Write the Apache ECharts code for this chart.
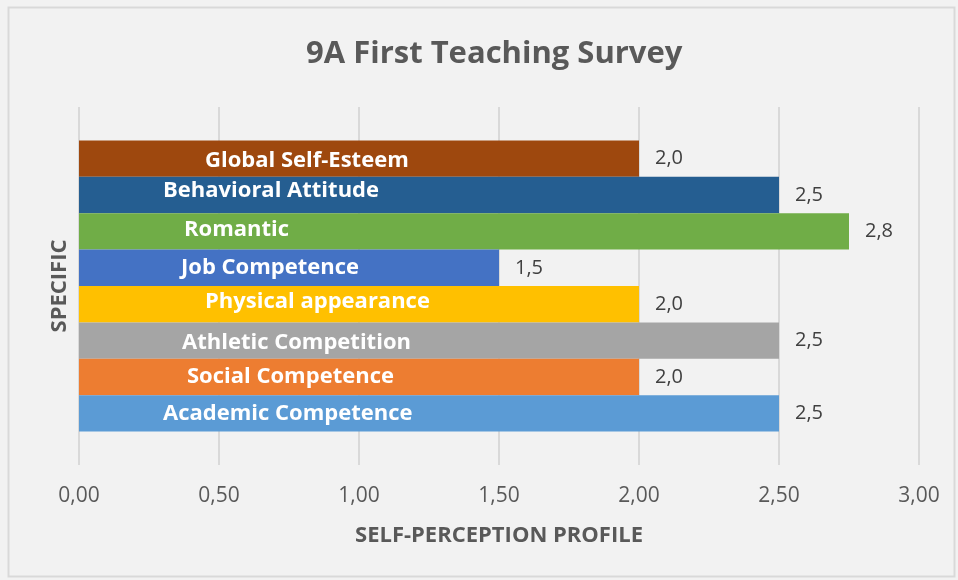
<!DOCTYPE html>
<html lang="en" style="width: 100%;height:100%">
    <head>
        <meta charset="UTF-8">
        <title>9A First Teaching Survey</title>
        <script src="https://cdn.jsdelivr.net/npm/echarts@6.0.0/dist/echarts.min.js"></script>
    </head>
    <body style="width: 100%;height:100%;margin:0;background:#fff">
        <div id="bar" style="width: 958px;height:580px"></div>
        <script>
            // top to bottom, like the picture
            const names = ['Global Self-Esteem', 'Behavioral Attitude', 'Romantic', 'Job Competence',
                'Physical appearance', 'Athletic Competition', 'Social Competence', 'Academic Competence'];
            const scores = [2.0, 2.5, 2.75, 1.5, 2.0, 2.5, 2.0, 2.5];
            const xTicks = [0, 0.5, 1, 1.5, 2, 2.5, 3];

            const colors = ['#9E480E', '#255E91', '#70AD47', '#4472C4', '#FFC000', '#A5A5A5', '#ED7D31', '#5B9BD5'];
            // hand-placed name labels, distance from the bar start
            const nameOffset = [126, 84, 105, 102, 126, 103, 108, 84];
            const nameShiftY = [2, -4, -2, 0, -2, 2, 0, 0];

            const font = '"Open Sans", sans-serif';
            const series = [];
            for (let i = 0; i < names.length; i++) {
                series.push({
                    name: names[i],
                    type: 'bar',
                    yAxisIndex: 0,
                    barGap: 0,
                    barCategoryGap: '18.7%',
                    itemStyle: {color: colors[i]},
                    label: {
                        show: true,
                        position: 'right',
                        distance: 16,
                        color: '#404040',
                        fontSize: 20,
                        fontFamily: font,
                        formatter: p => p.value.toFixed(1).replace('.', ',')
                    },
                    data: [scores[i]]
                });
            }
            // transparent copies on a hidden axis, only to carry the name labels
            for (let i = 0; i < names.length; i++) {
                series.push({
                    name: names[i] + ' label',
                    type: 'bar',
                    yAxisIndex: 1,
                    silent: true,
                    barGap: 0,
                    barCategoryGap: '18.7%',
                    itemStyle: {color: 'rgba(0,0,0,0)'},
                    label: {
                        show: true,
                        position: 'insideLeft',
                        distance: nameOffset[i],
                        offset: [0, nameShiftY[i]],
                        color: '#ffffff',
                        fontWeight: 'bold',
                        fontSize: 22,
                        fontFamily: font,
                        formatter: names[i]
                    },
                    data: [scores[i]]
                });
            }

            const myChart = echarts.init(document.getElementById('bar'));

            const option = {
                backgroundColor: '#F2F2F2',
                animation: false,
                title: {
                    text: '9A First Teaching Survey',
                    left: 301,
                    top: 34,
                    textStyle: {
                        color: '#595959',
                        fontSize: 31,
                        fontWeight: 'bold',
                        fontFamily: font
                    }
                },
                graphic: [{
                    type: 'rect',
                    shape: {x: 8.5, y: 7.5, width: 946, height: 569},
                    style: {fill: 'none', stroke: '#D9D9D9', lineWidth: 2},
                    silent: true
                }],
                grid: {
                    left: 79,
                    right: 39,
                    top: 107,
                    bottom: 115
                },
                xAxis: {
                    type: 'value',
                    min: xTicks[0],
                    max: xTicks[xTicks.length - 1],
                    interval: 0.5,
                    name: 'SELF-PERCEPTION PROFILE',
                    nameLocation: 'middle',
                    nameGap: 60,
                    nameTextStyle: {color: '#595959', fontSize: 22, fontWeight: 'bold', fontFamily: font},
                    axisLine: {show: false},
                    axisTick: {show: false},
                    axisLabel: {
                        color: '#595959',
                        fontSize: 21,
                        fontFamily: font,
                        margin: 21,
                        formatter: v => v.toFixed(2).replace('.', ',')
                    },
                    splitLine: {lineStyle: {color: '#D9D9D9', width: 2}}
                },
                yAxis: [{
                    type: 'category',
                    data: [''],
                    name: 'SPECIFIC',
                    nameLocation: 'middle',
                    nameRotate: 90,
                    nameGap: 8,
                    nameTextStyle: {color: '#595959', fontSize: 22, fontWeight: 'bold', fontFamily: font},
                    axisLine: {show: false},
                    axisTick: {show: false},
                    axisLabel: {show: false}
                }, {
                    type: 'category',
                    data: [''],
                    show: false
                }],
                series: series
            };

            myChart.setOption(option);
        </script>
    </body>
</html>
